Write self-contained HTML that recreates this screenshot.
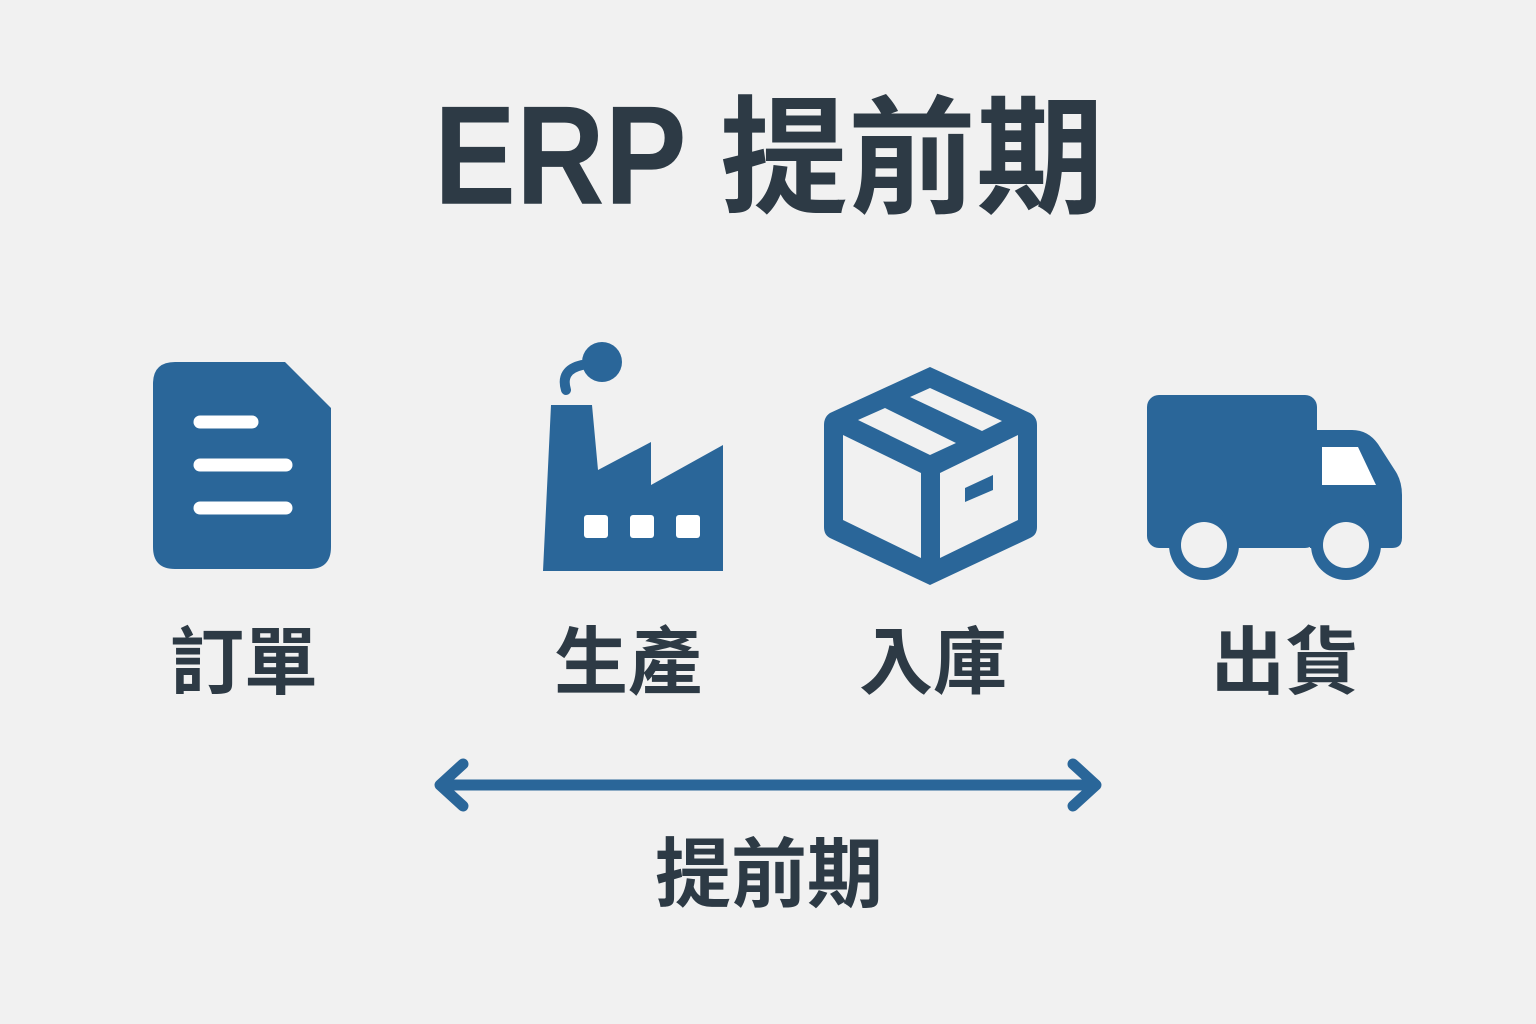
<!DOCTYPE html>
<html><head><meta charset="utf-8"><style>
html,body{margin:0;padding:0;background:#f1f1f1;}
body{width:1536px;height:1024px;position:relative;overflow:hidden;font-family:"Liberation Sans","Noto Sans CJK TC",sans-serif;color:#2d3a45;}
.t{position:absolute;font-weight:bold;white-space:nowrap;line-height:1;}
.cj{font-family:"Noto Sans CJK TC","Noto Sans CJK SC",sans-serif;}
</style></head><body>
<div class="t" style="left:434px;top:86px;font-size:128px;transform:scale(0.96,1.1);transform-origin:0 0;">ERP</div>
<div class="t cj" style="left:720px;top:84px;font-size:128px;">提前期</div>
<div class="t cj" style="left:170px;top:620px;font-size:74px;">訂單</div>
<div class="t cj" style="left:554px;top:620px;font-size:74px;">生產</div>
<div class="t cj" style="left:859px;top:620px;font-size:74px;">入庫</div>
<div class="t cj" style="left:1211px;top:620px;font-size:74px;">出貨</div>
<div class="t cj" style="left:655px;top:830px;font-size:76px;">提前期</div>
<svg width="1536" height="1024" style="position:absolute;left:0;top:0">
<g fill="#2a6699">
<path d="M175 362 H285 L331 408 V547 Q331 569 309 569 H175 Q153 569 153 547 V384 Q153 362 175 362 Z"/>
<g stroke="#fff" stroke-width="13" stroke-linecap="round"><line x1="200" y1="422" x2="252" y2="422"/><line x1="200" y1="465" x2="286" y2="465"/><line x1="200" y1="508" x2="286" y2="508"/></g>
<path d="M551 405 H592 L598 470 L651 442 V485 L723 445 V571 H543 Z"/>
<g fill="#fff"><rect x="584" y="515" width="24" height="23" rx="3"/><rect x="630" y="515" width="24" height="23" rx="3"/><rect x="676" y="515" width="24" height="23" rx="3"/></g>
<circle cx="602" cy="362" r="20"/>
<path d="M566 390 Q560 370 582 365" fill="none" stroke="#2a6699" stroke-width="10" stroke-linecap="round"/>
<path d="M930 367 L1030 413 Q1037 417 1037 425 V527 Q1037 535 1030 538 L930 585 L830 538 Q824 535 824 527 V425 Q824 417 830 413 Z"/>
<g fill="#f1f1f1">
<path d="M843 435 L921 473 V558 L843 520 Z"/>
<path d="M940 473 L1018 435 V520 L940 558 Z"/>
<path d="M858 420 L885 408 L956 443 L930 455 Z"/>
<path d="M910 397 L930 388 L1002 421 L982 431 Z"/>
</g>
<path d="M965 488 L993 475 V490 L965 502 Z"/>
<rect x="1147" y="395" width="170" height="153" rx="12"/>
<path d="M1310 430 H1352 Q1368 430 1378 444 L1396 472 Q1402 482 1402 495 V538 Q1402 548 1392 548 H1310 Z"/>
<path d="M1322 447 H1358 L1376 485 H1322 Z" fill="#fff"/>
<circle cx="1204" cy="545" r="35"/><circle cx="1204" cy="545" r="23" fill="#f1f1f1"/>
<circle cx="1346" cy="545" r="35"/><circle cx="1346" cy="545" r="23" fill="#f1f1f1"/>
</g>
<g stroke="#2a6699" stroke-width="11" stroke-linecap="round" stroke-linejoin="round" fill="none">
<line x1="442" y1="785" x2="1094" y2="785"/>
<polyline points="463,764 440,785 463,806"/>
<polyline points="1073,764 1096,785 1073,806"/>
</g>
</svg>
</body></html>
